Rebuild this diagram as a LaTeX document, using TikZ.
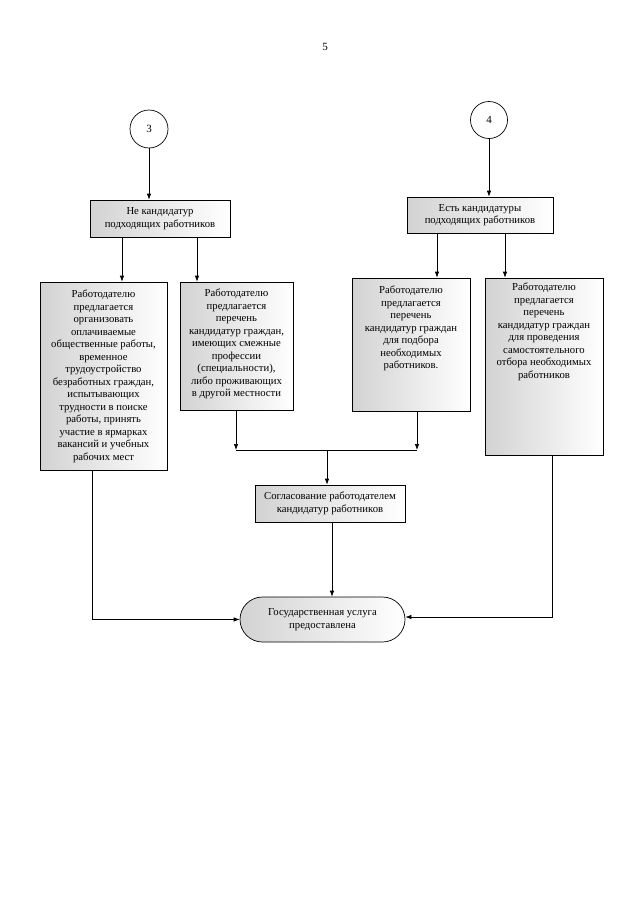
\documentclass[tikz,border=0pt]{standalone}
\usepackage{fontspec}
\setmainfont{Liberation Serif}
\usetikzlibrary{arrows.meta,calc}
\newcommand\fsz{\fontsize{10.7}{12.5}\selectfont}
\newcommand\topbox[4]{\parbox[c][#2][t]{#1}{\centering\vspace*{#3}#4}}
\begin{document}
\begin{tikzpicture}[x=1pt,y=-1pt,
  line width=0.7pt,
  arr/.style={-{Latex[length=6pt,width=4.5pt]}},
  box/.style={draw, shade, left color=gray!35, right color=white, inner sep=0pt, align=center, font=\fsz},
  circ/.style={draw, circle, minimum size=38pt, inner sep=0pt, fill=white, font=\fontsize{11}{13}\selectfont}]
\useasboundingbox (0,0) rectangle (639,905);
\node[font=\fontsize{11}{13}\selectfont] (pg) at (325,47) {5};
\node[circ] (c3) at (149,129) {3};
\node[circ, minimum size=37pt] (c4) at (489,120) {4};
\node[box, minimum width=140pt, minimum height=37pt] (b1) at (160,218.5) {Не кандидатур\\подходящих работников};
\node[box, minimum width=146pt, minimum height=36pt] (b2) at (480,215) {Есть кандидатуры\\подходящих работников};
\node[box] (b3) at (103.5,376) {\topbox{127pt}{188pt}{8pt}{Работодателю\\предлагается\\организовать\\оплачиваемые\\общественные работы,\\временное\\трудоустройство\\безработных граждан,\\испытывающих\\трудности в поиске\\работы, принять\\участие в ярмарках\\вакансий и учебных\\рабочих мест}};
\node[box] (b4) at (236.5,346) {\topbox{113pt}{128pt}{7pt}{Работодателю\\предлагается\\перечень\\кандидатур граждан,\\имеющих смежные\\профессии\\(специальности),\\либо проживающих\\в другой местности}};
\node[box] (b5) at (411,344.5) {\topbox{118pt}{133pt}{8pt}{Работодателю\\предлагается\\перечень\\кандидатур граждан\\для подбора\\необходимых\\работников.}};
\node[box] (b6) at (544,366.5) {\topbox{118pt}{177pt}{5pt}{Работодателю\\предлагается\\перечень\\кандидатур граждан\\для проведения\\самостоятельного\\отбора необходимых\\работников}};
\node[box, minimum width=150pt, minimum height=37pt] (b7) at (330,503.5) {Согласование работодателем\\кандидатур работников};
\node[box, rounded corners=22.5pt, minimum width=165pt, minimum height=45pt] (t) at (322.5,619.5) {Государственная услуга\\предоставлена};
% connectors
\draw[arr] (c3) -- (c3 |- b1.north);
\draw[arr] (c4) -- (c4 |- b2.north);
\coordinate (p1) at (122,0);
\coordinate (p2) at (197,0);
\coordinate (p3) at (437,0);
\coordinate (p4) at (505,0);
\draw[arr] (b1.south -| p1) -- (b3.north -| p1);
\draw[arr] (b1.south -| p2) -- (b4.north -| p2);
\draw[arr] (b2.south -| p3) -- (b5.north -| p3);
\draw[arr] (b2.south -| p4) -- (b6.north -| p4);
\coordinate (ml) at (236,450);
\coordinate (mr) at (417,450);
\coordinate (m) at (327,450);
\draw[arr] (b4.south -| ml) -- (ml);
\draw[arr] (b5.south -| mr) -- (mr);
\draw (ml) -- (mr);
\draw[arr] (m) -- (m |- b7.north);
\coordinate (q) at (332,0);
\draw[arr] (b7.south -| q) -- (t.north -| q);
\coordinate (lc) at (92,619.5);
\draw[arr] (b3.south -| lc) -- (lc) -- (lc -| t.west);
\coordinate (rc) at (552,617);
\draw[arr] (b6.south -| rc) -- (rc) -- (rc -| t.east);
\end{tikzpicture}
\end{document}
